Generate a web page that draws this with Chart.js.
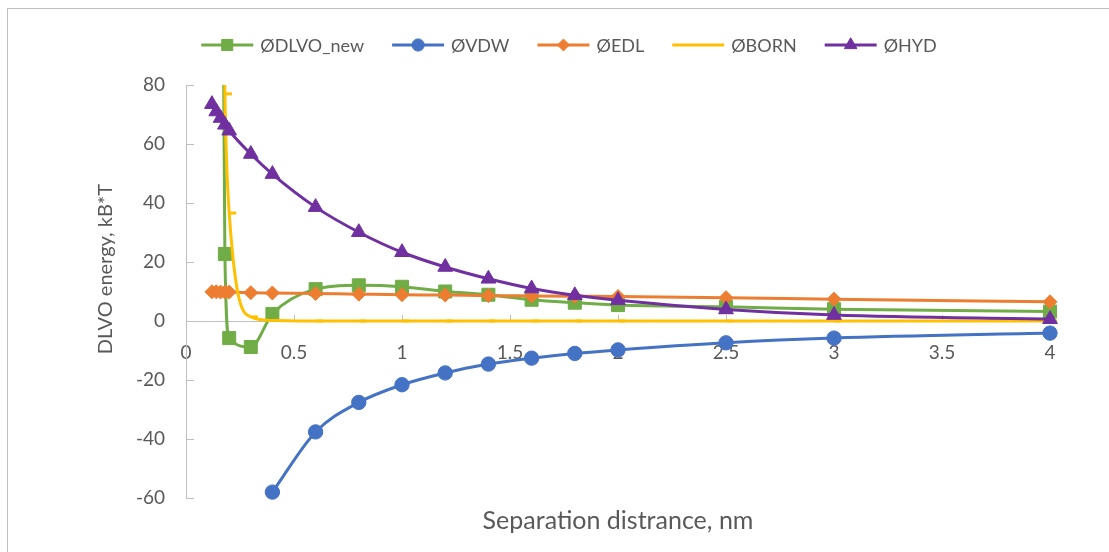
<!DOCTYPE html>
<html>
<head>
<meta charset="utf-8">
<title>DLVO energy vs separation distance</title>
<script src="https://cdn.jsdelivr.net/npm/chart.js"></script>
<style>
  html, body { margin: 0; padding: 0; background: #ffffff; overflow: hidden; }
  #wrap { position: relative; width: 1109px; height: 552px; }
  /* light outline of the chart object, open to the right and bottom */
  #frame { position: absolute; left: 7px; top: 8px; width: 1200px; height: 700px;
           border: 1px solid #BFBFBF; box-sizing: border-box; }
  #chart { position: absolute; left: 0; top: 0; }
</style>
</head>
<body>
<div id="wrap">
  <div id="frame"></div>
  <canvas id="chart" width="1109" height="552"></canvas>
</div>
<script>
// Separation distance (nm) shared by every series
const separation = [0.12, 0.14, 0.16, 0.18, 0.2, 0.3, 0.4, 0.6, 0.8, 1, 1.2, 1.4, 1.6, 1.8, 2, 2.5, 3, 4];

// Interaction energies in kB*T (null where the value lies outside the plotted range)
const dlvoNew = [null, null, 250, 22.7, -5.8, -8.8, 2.4, 10.8, 12.1, 11.6, 10.0, 8.9, 7.2, 6.2, 5.4, 4.8, 4.0, 3.2];
const vdw     = [null, null, null, null, null, null, -58, -37.6, -27.6, -21.6, -17.6, -14.6, -12.6, -11.0, -9.8, -7.4, -5.8, -4.1];
const edl     = [9.9, 9.9, 9.8, 9.8, 9.8, 9.6, 9.5, 9.3, 9.1, 8.9, 8.8, 8.6, 8.5, 8.4, 8.3, 7.9, 7.4, 6.5];
const born    = [null, null, 200, 77, 36.6, 1.4, 0.2, 0, 0, 0, 0, 0, 0, 0, 0, 0, 0, 0];
const hyd     = [73.5, 71.0, 68.8, 66.5, 64.5, 56.6, 49.8, 38.6, 30.1, 23.3, 18.3, 14.3, 11.0, 8.7, 7.0, 3.9, 2.0, 0.6];

// Series names as shown in the key
const seriesNames = ['ØDLVO_new', 'ØVDW', 'ØEDL', 'ØBORN', 'ØHYD'];

// Axis ranges and tick spacing
const xRange = [0, 4];
const xStep = 0.5;
const yRange = [-60, 80];
const yStep = 20;

const axisTitleX = 'Separation distrance, nm';
const axisTitleY = 'DLVO energy, kB*T';

const TEXT = '#595959';
const AXIS = '#BFBFBF';

// short horizontal dash marker used by the Born series (sits just right of the point)
function dashMarker(color) {
  const c = document.createElement('canvas');
  c.width = 18; c.height = 5;
  const g = c.getContext('2d');
  g.fillStyle = color;
  g.fillRect(10, 1, 6, 3);
  return c;
}

function toPoints(values) {
  return separation.map((x, i) => ({ x: x, y: values[i] }));
}

function series(label, values, color, style, radius, order) {
  return {
    label: label,
    data: toPoints(values),
    borderColor: color,
    backgroundColor: color,
    pointBackgroundColor: color,
    pointBorderColor: color,
    pointBorderWidth: 1,
    pointStyle: style,
    pointRadius: radius,
    pointHoverRadius: radius,
    borderWidth: 3,
    cubicInterpolationMode: 'monotone',
    order: order,
    clip: { left: 12, top: 0, right: 12, bottom: 12 }
  };
}

// plain tick text: 0, 0.5, 1, 1.5 ...
function plainNumber(value) {
  return String(Number(value.toFixed(2)));
}

// Key drawn across the top (line sample with its marker, then the series name)
// and the vertical title beside the value axis
const chartText = {
  id: 'chartText',
  afterDraw(chart) {
    const ctx = chart.ctx;
    const sample = 52, gapText = 7, gapItem = 28, y = 45, centre = 569;
    ctx.save();
    ctx.font = '18px Lato';
    const widths = chart.data.datasets.map(d => ctx.measureText(d.label).width);
    const total = widths.reduce((a, w) => a + sample + gapText + w, 0) + gapItem * (widths.length - 1);
    let x = centre - total / 2;
    chart.data.datasets.forEach((ds, i) => {
      ctx.strokeStyle = ds.borderColor;
      ctx.lineWidth = 3;
      ctx.beginPath();
      ctx.moveTo(x, y);
      ctx.lineTo(x + sample, y);
      ctx.stroke();
      if (typeof ds.pointStyle === 'string') {
        ctx.fillStyle = ds.pointBackgroundColor;
        ctx.strokeStyle = ds.pointBorderColor;
        ctx.lineWidth = 1;
        Chart.helpers.drawPoint(ctx, { pointStyle: ds.pointStyle, radius: ds.pointRadius * 0.85, rotation: 0, borderWidth: 1 }, x + sample / 2, y);
      }
      ctx.fillStyle = TEXT;
      ctx.textAlign = 'left';
      ctx.textBaseline = 'middle';
      ctx.fillText(ds.label, x + sample + gapText, y + 1);
      x += sample + gapText + widths[i] + gapItem;
    });

    // value axis title
    ctx.translate(106, 269);
    ctx.rotate(-Math.PI / 2);
    ctx.font = '20px Lato';
    ctx.fillStyle = TEXT;
    ctx.textAlign = 'center';
    ctx.textBaseline = 'middle';
    ctx.fillText(axisTitleY, 0, 0);
    ctx.restore();
  }
};

function draw() {
  Chart.defaults.font.family = 'Lato';
  Chart.defaults.color = TEXT;

  new Chart(document.getElementById('chart'), {
    type: 'line',
    data: {
      datasets: [
        series(seriesNames[0], dlvoNew, '#70AD47', 'rect', 9.2, 5),
        series(seriesNames[1], vdw, '#4472C4', 'circle', 7.2, 4),
        series(seriesNames[2], edl, '#ED7D31', 'rectRot', 7, 3),
        series(seriesNames[3], born, '#FFC000', dashMarker('#FFC000'), 5, 2),
        series(seriesNames[4], hyd, '#7030A0', 'triangle', 8.5, 1)
      ]
    },
    options: {
      responsive: false,
      devicePixelRatio: 1,
      animation: false,
      events: [],
      layout: { padding: { left: 0, right: 59, top: 85, bottom: 0 } },
      plugins: {
        legend: { display: false },
        tooltip: { enabled: false },
        title: { display: false }
      },
      scales: {
        x: {
          type: 'linear',
          position: { y: 0 },
          min: xRange[0],
          max: xRange[1],
          ticks: { stepSize: xStep, padding: 27, color: TEXT, font: { size: 19 }, maxRotation: 0, callback: plainNumber },
          grid: { display: true, drawOnChartArea: false, drawTicks: true, tickLength: -7, color: AXIS, lineWidth: 1 },
          border: { display: true, color: AXIS, width: 1 }
        },
        xTitle: {
          type: 'linear',
          axis: 'x',
          position: 'bottom',
          display: true,
          min: xRange[0],
          max: xRange[1],
          ticks: { display: false },
          grid: { display: false },
          border: { display: false },
          title: { display: true, text: axisTitleX, color: TEXT, font: { size: 25 }, padding: { top: 0, bottom: 16 } },
          afterFit(scale) { scale.height = 54; }
        },
        y: {
          type: 'linear',
          position: 'left',
          min: yRange[0],
          max: yRange[1],
          ticks: { stepSize: yStep, padding: 29, color: TEXT, font: { size: 19 } },
          grid: { display: true, drawOnChartArea: false, drawTicks: true, tickLength: -8, color: AXIS, lineWidth: 1 },
          border: { display: true, color: AXIS, width: 1 },
          afterFit(scale) { scale.width = 186; }
        }
      }
    },
    plugins: [chartText]
  });
}

if (document.fonts && document.fonts.load) {
  Promise.all([document.fonts.load('19px Lato'), document.fonts.load('25px Lato')]).then(draw, draw);
} else {
  draw();
}
</script>
</body>
</html>
